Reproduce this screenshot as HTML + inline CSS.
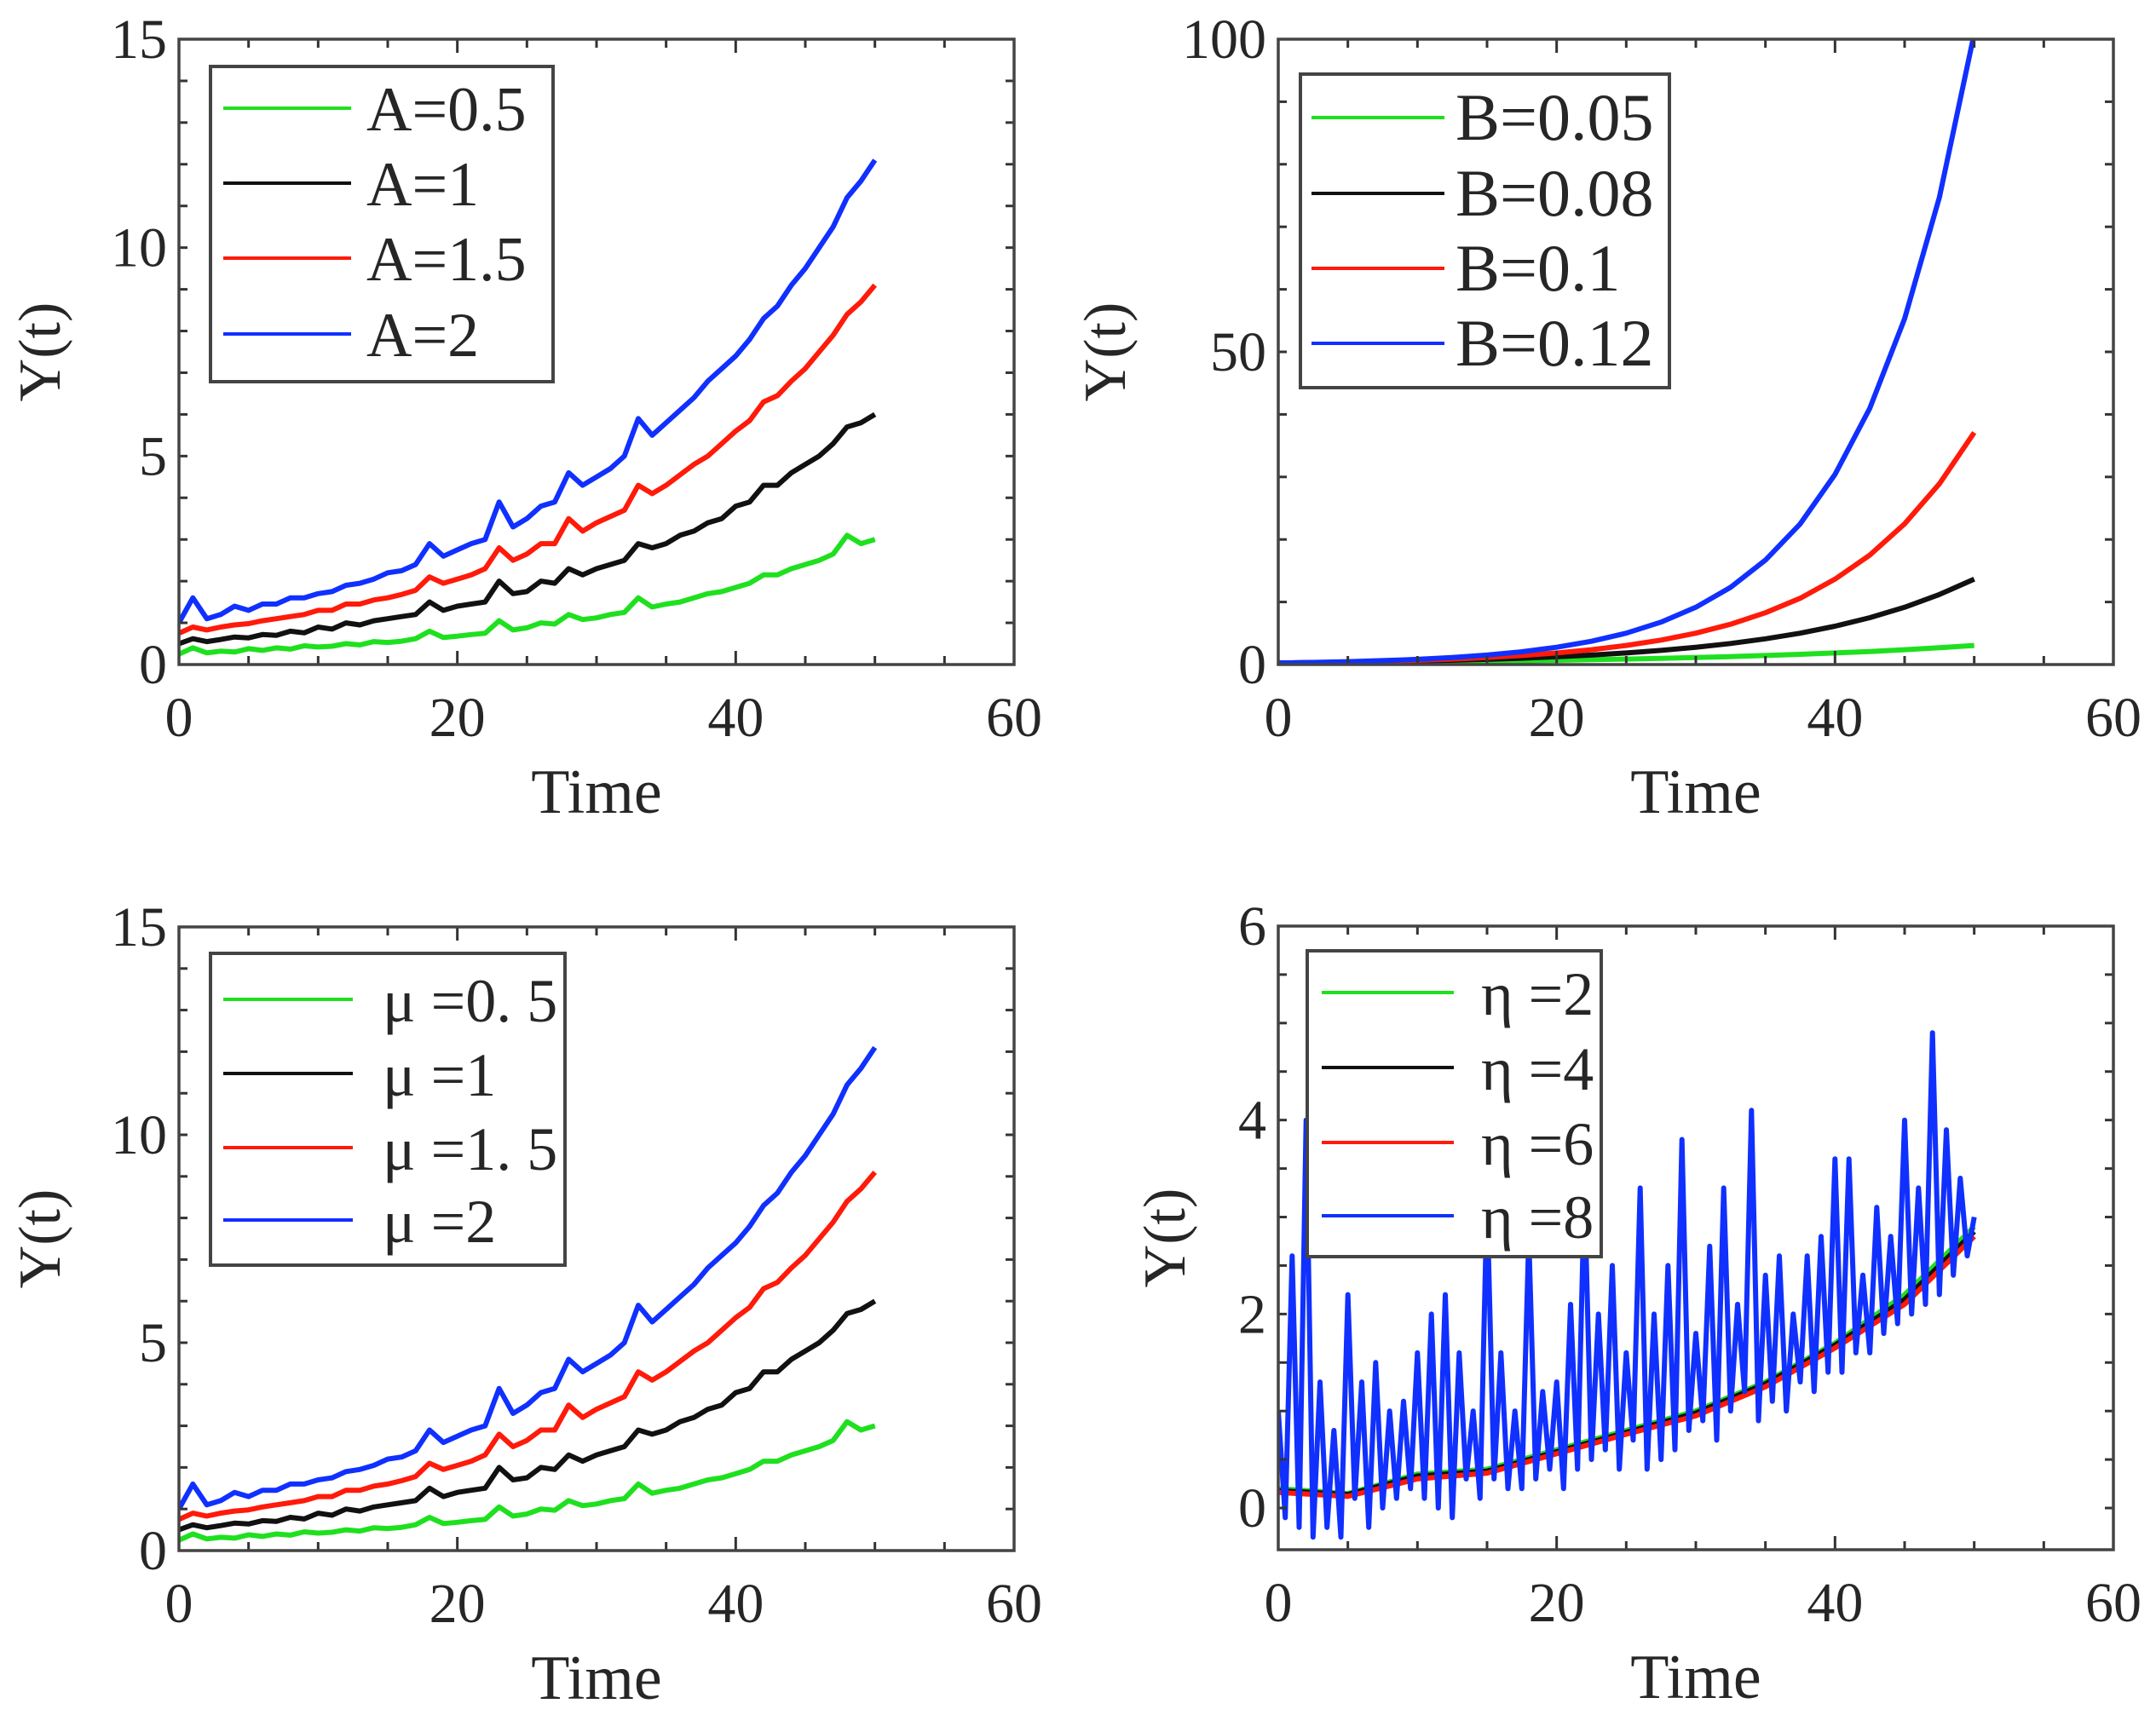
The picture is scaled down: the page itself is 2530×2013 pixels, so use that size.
<!DOCTYPE html>
<html><head><meta charset="utf-8">
<style>
html,body{margin:0;padding:0;background:#fff;}
svg{display:block;}
svg text{font-family:"Times New Roman","Liberation Serif","Noto Serif CJK SC","DejaVu Serif",serif;fill:#262626;}
</style></head>
<body>
<svg id="fig" width="2530" height="2013" viewBox="0 0 2530 2013" xmlns="http://www.w3.org/2000/svg"></svg>
<script>
// ---- data ----
const tA = [0,1,2,3,4,5,6,7,8,9,10,11,12,13,14,15,16,17,18,19,20,21,22,23,24,25,26,27,28,29,30,31,32,33,34,35,36,37,38,39,40,41,42,43,44,45,46,47,48,49,50];
const seriesA05 = [0.25,0.4,0.28,0.32,0.3,0.38,0.34,0.4,0.37,0.45,0.42,0.44,0.5,0.47,0.55,0.53,0.56,0.62,0.8,0.65,0.68,0.72,0.75,1.05,0.83,0.88,1.0,0.97,1.2,1.08,1.12,1.2,1.25,1.6,1.38,1.45,1.5,1.6,1.7,1.75,1.85,1.95,2.15,2.15,2.3,2.4,2.5,2.65,3.1,2.9,3.0];
const seriesA1 = [0.5,0.62,0.55,0.6,0.66,0.64,0.72,0.7,0.8,0.76,0.9,0.85,1.0,0.95,1.05,1.1,1.15,1.2,1.5,1.3,1.4,1.45,1.5,2.0,1.7,1.75,2.0,1.95,2.3,2.15,2.3,2.4,2.5,2.9,2.8,2.9,3.1,3.2,3.4,3.5,3.8,3.9,4.3,4.3,4.6,4.8,5.0,5.3,5.7,5.8,6.0];
const seriesA15 = [0.75,0.9,0.83,0.9,0.95,0.98,1.05,1.1,1.15,1.2,1.3,1.3,1.45,1.45,1.55,1.6,1.68,1.78,2.1,1.95,2.05,2.15,2.3,2.8,2.5,2.65,2.9,2.9,3.5,3.2,3.4,3.55,3.7,4.3,4.1,4.3,4.55,4.8,5.0,5.3,5.6,5.85,6.3,6.45,6.8,7.1,7.5,7.9,8.4,8.7,9.1];
const seriesA2 = [1.0,1.6,1.1,1.2,1.4,1.3,1.45,1.45,1.6,1.6,1.7,1.75,1.9,1.95,2.05,2.2,2.25,2.4,2.9,2.6,2.75,2.9,3.0,3.9,3.3,3.5,3.8,3.9,4.6,4.3,4.5,4.7,5.0,5.9,5.5,5.8,6.1,6.4,6.8,7.1,7.4,7.8,8.3,8.6,9.1,9.5,10.0,10.5,11.2,11.6,12.1];

const tB = [0,2.5,5,7.5,10,12.5,15,17.5,20,22.5,25,27.5,30,32.5,35,37.5,40,42.5,45,47.5,50];
const seriesB005 = [0.25,0.28,0.32,0.36,0.41,0.47,0.53,0.6,0.68,0.77,0.87,0.99,1.12,1.27,1.44,1.63,1.85,2.09,2.37,2.69,3.05];
const seriesB008 = [0.25,0.31,0.37,0.46,0.56,0.68,0.83,1.01,1.24,1.51,1.85,2.26,2.76,3.37,4.11,5.02,6.13,7.49,9.15,11.2,13.65];
const seriesB01 = [0.25,0.32,0.41,0.53,0.68,0.87,1.12,1.44,1.85,2.37,3.05,3.91,5.02,6.45,8.28,10.6,13.65,17.5,22.5,28.9,37.1];
const seriesB012 = [0.25,0.34,0.46,0.62,0.83,1.12,1.51,2.04,2.76,3.72,5.02,6.78,9.15,12.35,16.7,22.5,30.4,41.0,55.3,74.7,100.9];

const tMu = [0,1,2,3,4,5,6,7,8,9,10,11,12,13,14,15,16,17,18,19,20,21,22,23,24,25,26,27,28,29,30,31,32,33,34,35,36,37,38,39,40,41,42,43,44,45,46,47,48,49,50];
const seriesMu05 = [0.25,0.4,0.28,0.32,0.3,0.38,0.34,0.4,0.37,0.45,0.42,0.44,0.5,0.47,0.55,0.53,0.56,0.62,0.8,0.65,0.68,0.72,0.75,1.05,0.83,0.88,1.0,0.97,1.2,1.08,1.12,1.2,1.25,1.6,1.38,1.45,1.5,1.6,1.7,1.75,1.85,1.95,2.15,2.15,2.3,2.4,2.5,2.65,3.1,2.9,3.0];
const seriesMu1 = [0.5,0.62,0.55,0.6,0.66,0.64,0.72,0.7,0.8,0.76,0.9,0.85,1.0,0.95,1.05,1.1,1.15,1.2,1.5,1.3,1.4,1.45,1.5,2.0,1.7,1.75,2.0,1.95,2.3,2.15,2.3,2.4,2.5,2.9,2.8,2.9,3.1,3.2,3.4,3.5,3.8,3.9,4.3,4.3,4.6,4.8,5.0,5.3,5.7,5.8,6.0];
const seriesMu15 = [0.75,0.9,0.83,0.9,0.95,0.98,1.05,1.1,1.15,1.2,1.3,1.3,1.45,1.45,1.55,1.6,1.68,1.78,2.1,1.95,2.05,2.15,2.3,2.8,2.5,2.65,2.9,2.9,3.5,3.2,3.4,3.55,3.7,4.3,4.1,4.3,4.55,4.8,5.0,5.3,5.6,5.85,6.3,6.45,6.8,7.1,7.5,7.9,8.4,8.7,9.1];
const seriesMu2 = [1.0,1.6,1.1,1.2,1.4,1.3,1.45,1.45,1.6,1.6,1.7,1.75,1.9,1.95,2.05,2.2,2.25,2.4,2.9,2.6,2.75,2.9,3.0,3.9,3.3,3.5,3.8,3.9,4.6,4.3,4.5,4.7,5.0,5.9,5.5,5.8,6.1,6.4,6.8,7.1,7.4,7.8,8.3,8.6,9.1,9.5,10.0,10.5,11.2,11.6,12.1];

const tEtaSmooth = [0,5,10,15,20,25,30,35,40,45,50];
const seriesEta2 = [0.2,0.15,0.35,0.4,0.6,0.8,1.0,1.3,1.7,2.2,2.9];
const seriesEta4 = [0.18,0.14,0.33,0.38,0.58,0.78,0.98,1.28,1.68,2.15,2.85];
const seriesEta6 = [0.16,0.12,0.3,0.36,0.56,0.76,0.95,1.25,1.65,2.1,2.8];
const tEta8 = [0,0.5,1,1.5,2,2.5,3,3.5,4,4.5,5,5.5,6,6.5,7,7.5,8,8.5,9,9.5,10,10.5,11,11.5,12,12.5,13,13.5,14,14.5,15,15.5,16,16.5,17,17.5,18,18.5,19,19.5,20,20.5,21,21.5,22,22.5,23,23.5,24,24.5,25,25.5,26,26.5,27,27.5,28,28.5,29,29.5,30,30.5,31,31.5,32,32.5,33,33.5,34,34.5,35,35.5,36,36.5,37,37.5,38,38.5,39,39.5,40,40.5,41,41.5,42,42.5,43,43.5,44,44.5,45,45.5,46,46.5,47,47.5,48,48.5,49,49.5,50];
const seriesEta8 = [1.0,-0.1,2.6,-0.2,4.0,-0.3,1.3,-0.2,0.8,-0.3,2.2,0.1,1.3,-0.2,1.5,0.0,1.0,0.1,1.1,0.2,1.6,0.1,2.0,0.0,2.2,-0.1,1.6,0.3,1.0,0.1,3.2,0.3,1.6,0.2,1.0,0.2,2.8,0.3,1.2,0.4,1.3,0.2,2.1,0.4,3.3,0.5,2.0,0.6,2.5,0.4,1.6,0.7,3.3,0.4,2.0,0.5,2.5,0.6,3.8,0.8,1.8,0.9,2.7,0.7,3.3,1.0,2.1,1.2,4.1,0.9,2.4,1.1,2.6,1.0,2.0,1.3,2.6,1.2,2.8,1.4,3.6,1.4,3.6,1.6,2.4,1.6,3.1,1.8,2.8,1.9,4.0,2.0,3.3,2.1,4.9,2.2,3.9,2.4,3.4,2.6,3.0];

const xTicks = [0,20,40,60];
const yTicksA = [0,5,10,15];
const yTicksB = [0,50,100];
const yTicksEta = [0,2,4,6];

const GREEN="#1fe01f", BLACK="#111", RED="#ff1a0a", BLUE="#1030ff";
const svg = document.getElementById('fig');
const NS="http://www.w3.org/2000/svg";
function mk(tag, attrs, parent){const e=document.createElementNS(NS,tag);for(const k in attrs)e.setAttribute(k,attrs[k]);(parent||svg).appendChild(e);return e;}

function panel(cfg){
  const g=mk('g',{});
  
  
  const {x0,x1,y0,y1,xmin,xmax,ymin,ymax}=cfg;
  const sx=v=>x0+(v-xmin)/(xmax-xmin)*(x1-x0);
  const sy=v=>y1-(v-ymin)/(ymax-ymin)*(y1-y0);
  const clipId='clip-'+cfg.name;
  const cp=mk('clipPath',{id:clipId},g);
  mk('rect',{x:x0,y:y0,width:x1-x0,height:y1-y0},cp);
  cfg.series.forEach(s=>{
    const d=s.t.map((t,i)=>(i?'L':'M')+sx(t).toFixed(1)+' '+sy(s.v[i]).toFixed(1)).join(' ');
    const p=mk('path',{d,fill:'none',stroke:s.color,'stroke-width':s.w||6,'stroke-linejoin':'round','clip-path':'url(#'+clipId+')'},g);
    
    
  });
  const tk=mk('g',{stroke:'#333','stroke-width':3},g);
  
  
  for(let v=xmin; v<=xmax+1e-9; v+=cfg.xMinor){const X=sx(v);const L=(Math.abs(v%20)<1e-6)?16:10;
    mk('line',{x1:X,y1:y1,x2:X,y2:y1-L},tk);mk('line',{x1:X,y1:y0,x2:X,y2:y0+L},tk);}
  const ystart=Math.ceil(ymin/cfg.yMinor)*cfg.yMinor;
  for(let v=ystart; v<=ymax+1e-9; v+=cfg.yMinor){const Y=sy(v);
    mk('line',{x1:x0,y1:Y,x2:x0+10,y2:Y},tk);mk('line',{x1:x1,y1:Y,x2:x1-10,y2:Y},tk);}
  const fr=mk('rect',{x:x0,y:y0,width:x1-x0,height:y1-y0,fill:'none',stroke:'#444','stroke-width':3.5},g);
  
  
  xTicks.forEach(v=>{const t=mk('text',{x:sx(v),y:y1+84,'text-anchor':'middle','font-size':66},g);t.textContent=v;
    
    });
  cfg.yTicks.forEach(v=>{const t=mk('text',{x:x0-14,y:sy(v)+22,'text-anchor':'end','font-size':66},g);t.textContent=v;
    
    });
  const xt=mk('text',{x:(x0+x1)/2,y:y1+174,'text-anchor':'middle','font-size':74},g);xt.textContent='Time';
  
  
  const yx=cfg.ylabX, yy=(y0+y1)/2;
  const yt=mk('text',{x:yx,y:yy,'text-anchor':'middle','font-size':70,transform:`rotate(-90 ${yx} ${yy})`},g);yt.textContent='Y(t)';
  
  
  const L=cfg.legend;
  const lg=mk('g',{},g);
  
  
  mk('rect',{x:L.x,y:L.y,width:L.w,height:L.h,fill:'#fff',stroke:'#444','stroke-width':4},lg);
  cfg.series.filter(s=>s.label).forEach((s,i)=>{
    const ry=L.rows[i];
    const e=mk('g',{},lg);
    
    
    mk('line',{x1:L.lx0,x2:L.lx1,y1:ry,y2:ry,stroke:s.color,'stroke-width':4},e);
    const t=mk('text',{x:L.tx,y:ry+26,'font-size':L.fs},e);t.textContent=s.label;
  });
}

panel({name:'panel-a',x0:210,x1:1190,y0:46,y1:780,xmin:0,xmax:60,ymin:0,ymax:15,xMinor:5,yMinor:1,yTicks:yTicksA,ylabX:70,
  series:[{id:'a05',t:tA,v:seriesA05,color:GREEN,label:'A=0.5'},{id:'a1',t:tA,v:seriesA1,color:BLACK,label:'A=1'},
          {id:'a15',t:tA,v:seriesA15,color:RED,label:'A=1.5'},{id:'a2',t:tA,v:seriesA2,color:BLUE,label:'A=2'}],
  legend:{x:247,y:78,w:402,h:370,rows:[127,215,303,392],lx0:262,lx1:412,tx:430,fs:74}});

panel({name:'panel-b',x0:1500,x1:2480,y0:46,y1:780,xmin:0,xmax:60,ymin:0,ymax:100,xMinor:5,yMinor:10,yTicks:yTicksB,ylabX:1320,
  series:[{id:'b005',t:tB,v:seriesB005,color:GREEN,label:'B=0.05'},{id:'b008',t:tB,v:seriesB008,color:BLACK,label:'B=0.08'},
          {id:'b01',t:tB,v:seriesB01,color:RED,label:'B=0.1'},{id:'b012',t:tB,v:seriesB012,color:BLUE,label:'B=0.12'}],
  legend:{x:1526,y:87,w:433,h:368,rows:[138,227,315,403],lx0:1539,lx1:1695,tx:1708,fs:78}});

panel({name:'panel-mu',x0:210,x1:1190,y0:1088,y1:1820,xmin:0,xmax:60,ymin:0,ymax:15,xMinor:5,yMinor:1,yTicks:yTicksA,ylabX:70,
  series:[{id:'mu05',t:tMu,v:seriesMu05,color:GREEN,label:'μ =0. 5'},{id:'mu1',t:tMu,v:seriesMu1,color:BLACK,label:'μ =1'},
          {id:'mu15',t:tMu,v:seriesMu15,color:RED,label:'μ =1. 5'},{id:'mu2',t:tMu,v:seriesMu2,color:BLUE,label:'μ =2'}],
  legend:{x:247,y:1119,w:416,h:366,rows:[1173,1260,1347,1432],lx0:262,lx1:414,tx:449,fs:72}});

panel({name:'panel-eta',x0:1500,x1:2480,y0:1087,y1:1819,xmin:0,xmax:60,ymin:-0.43,ymax:6,xMinor:5,yMinor:0.5,yTicks:yTicksEta,ylabX:1390,
  series:[{id:'eta2',t:tEtaSmooth,v:seriesEta2,color:GREEN,label:'η =2'},{id:'eta4',t:tEtaSmooth,v:seriesEta4,color:BLACK,label:'η =4'},
          {id:'eta6',t:tEtaSmooth,v:seriesEta6,color:RED,label:'η =6'},{id:'eta8',t:tEta8,v:seriesEta8,color:BLUE,label:'η =8',w:6}],
  legend:{x:1534,y:1116,w:345,h:359,rows:[1165,1253,1341,1427],lx0:1551,lx1:1706,tx:1738,fs:72}});
</script>
</body></html>
